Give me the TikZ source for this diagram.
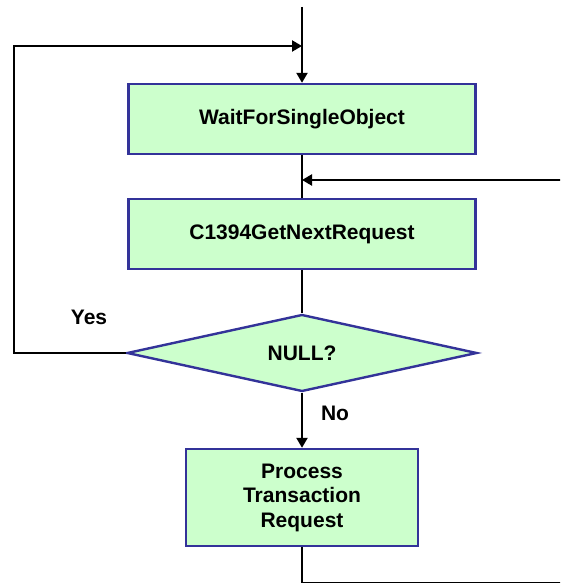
\documentclass[tikz,border=0pt]{standalone}
\usepackage{fontspec}
\setmainfont{Liberation Sans}
\usetikzlibrary{shapes.geometric,arrows.meta}

\definecolor{boxfill}{HTML}{CCFFCC}
\definecolor{boxline}{HTML}{333399}

\begin{document}
\begin{tikzpicture}[x=1pt, y=1pt,
    stepbox/.style={draw=boxline, fill=boxfill, line width=2.4pt, align=center,
        font=\fontsize{21}{24.5}\selectfont\bfseries},
    decision/.style={stepbox, diamond, inner sep=0pt, aspect=4.5},
    flow/.style={line width=2.2pt, black},
    arr/.style={flow, -{Triangle[length=10pt, width=11pt]}},
    lbl/.style={font=\fontsize{21}{24.5}\selectfont\bfseries}]
    \useasboundingbox (0,0) rectangle (560,583);
    \clip (0,0) rectangle (560,583);

    % --- 1. 처리 단계 ---
    \node[stepbox, minimum width=347pt, minimum height=70pt] (wait) at (302,464) {WaitForSingleObject};
    \node[stepbox, minimum width=347pt, minimum height=70pt] (getnext) at (302,349) {C1394GetNextRequest};
    \node[decision, minimum width=350pt, minimum height=77pt] (isnull) at (302,230) {NULL?};
    \node[stepbox, minimum width=232pt, minimum height=97pt] (process) at (302,85.5) {Process\\Transaction\\Request};

    % 연결점 (오른쪽 되돌림 선은 그림 밖으로 나감)
    \coordinate (entry) at (302,576);
    \coordinate (joinTop) at (302,537);
    \coordinate (joinMid) at (302,403);
    \coordinate (loopLeft) at (14,537);
    \coordinate (loopRight) at (580,0);

    % --- 2. 주 흐름 ---
    \draw[arr] (entry) -- (wait);
    \draw[flow] (wait) -- (getnext);
    \draw[flow] (getnext) -- (isnull);
    \draw[arr] (isnull) -- (process);

    % --- 3. 되돌아가는 흐름 ---
    \draw[arr] (isnull.west) -| (loopLeft) -- (joinTop);
    \draw[arr] (process.south) |- (loopRight) |- (joinMid);

    % 라벨
    \node[lbl] (yes) at (89,266) {Yes};
    \node[lbl] (no) at (335,170) {No};
\end{tikzpicture}
\end{document}
